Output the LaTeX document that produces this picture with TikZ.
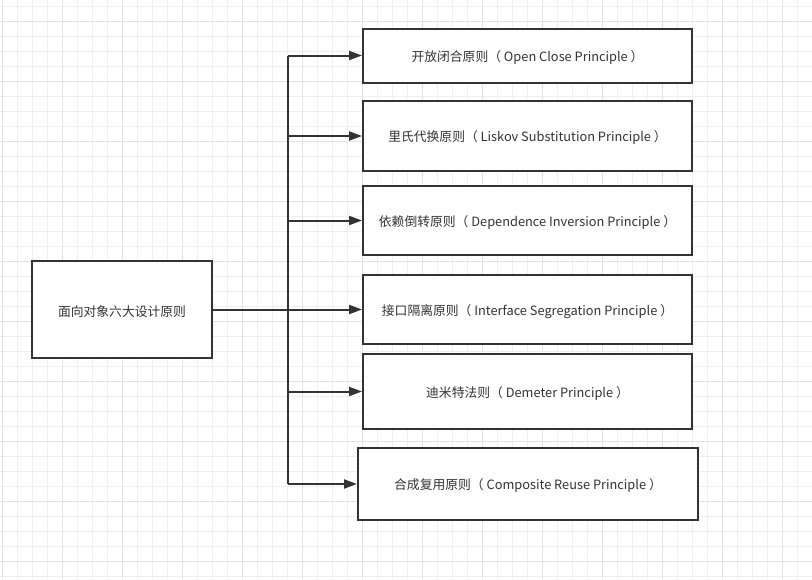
\documentclass[tikz,border=0pt]{standalone}
\usepackage{fontspec}
\setmainfont{Noto Sans CJK SC}
\usetikzlibrary{arrows.meta}
\definecolor{ink}{HTML}{333333}
\definecolor{gridminor}{HTML}{EFEFEF}
\definecolor{gridmajor}{HTML}{E2E2E2}
\newcommand\lowtxt[1]{\raisebox{-1.8pt}[\height][\depth]{#1}}
\begin{document}
\begin{tikzpicture}[x=1pt,y=-1pt,
  box/.style={draw=ink,line width=2pt,fill=white,text=ink,inner sep=0pt,
    font=\fontsize{12.8}{15}\selectfont},
  arr/.style={draw=ink,line width=2pt,-{Triangle[length=13pt,width=9pt]}},
  trunkline/.style={draw=ink,line width=2pt}]
\useasboundingbox (0,0) rectangle (812,579);
\fill[white] (0,0) rectangle (812,579);
% grid
\foreach \k in {0,...,54} {\draw[gridminor,line width=1pt] ({2+15*\k},0) -- ({2+15*\k},579);}
\foreach \k in {0,...,38} {\draw[gridminor,line width=1pt] (0,{6+15*\k}) -- (812,{6+15*\k});}
\foreach \k in {0,...,13} {\draw[gridmajor,line width=1pt] ({2+60*\k},0) -- ({2+60*\k},579);}
\foreach \k in {0,...,9} {\draw[gridmajor,line width=1pt] (0,{21+60*\k}) -- (812,{21+60*\k});}
% nodes
\node[box,minimum width=180pt,minimum height=97pt] (main) at (122,309.5) {\lowtxt{面向对象六大设计原则}};
\node[box,minimum width=329pt,minimum height=54pt] (b1) at (527.5,55.5) {\lowtxt{开放闭合原则（ Open Close Principle ）}};
\node[box,minimum width=329pt,minimum height=70pt] (b2) at (527.5,136) {\lowtxt{里氏代换原则（ Liskov Substitution Principle ）}};
\node[box,minimum width=329pt,minimum height=69pt] (b3) at (527.5,220.5) {\lowtxt{依赖倒转原则（ Dependence Inversion Principle ）}};
\node[box,minimum width=329pt,minimum height=69pt] (b4) at (527.5,309.5) {\lowtxt{接口隔离原则（ Interface Segregation Principle ）}};
\node[box,minimum width=329pt,minimum height=75pt] (b5) at (527.5,391.5) {\lowtxt{迪米特法则（ Demeter Principle ）}};
\node[box,minimum width=340pt,minimum height=72pt] (b6) at (528,484) {\lowtxt{合成复用原则（ Composite Reuse Principle ）}};
% connectors
\coordinate (trunk) at (288,0);
\draw[trunkline] (trunk |- b1.west) -- (trunk |- b6.west);
\draw[arr] (main.east) -- (b4.west);
\foreach \b in {b1,b2,b3,b5,b6} {\draw[arr] (trunk |- \b.west) -- (\b.west);}
\end{tikzpicture}
\end{document}
